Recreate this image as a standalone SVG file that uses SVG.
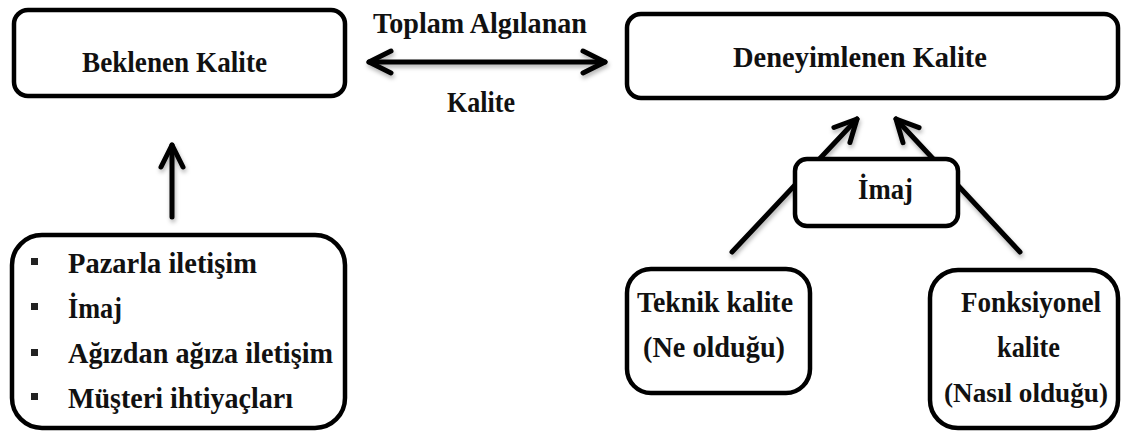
<svg xmlns="http://www.w3.org/2000/svg" width="1121" height="432" viewBox="0 0 1121 432">
  <defs>
    <style>
      .box { fill: #fff; stroke: #000; stroke-width: 4.5; }
      .link { fill: none; stroke: #000; stroke-width: 5; stroke-linecap: round; }
      .bullet { fill: #222; }
    </style>
    <!-- open chevron arrowhead -->
    <marker id="chev" viewBox="-30 -16 36 32" refX="0" refY="0" markerWidth="36" markerHeight="32" markerUnits="userSpaceOnUse" orient="auto-start-reverse">
      <path d="M-22,-11 L0,0 L-22,11" fill="none" stroke="#000" stroke-width="5" stroke-linecap="round" stroke-linejoin="round"/>
    </marker>
    <filter id="soft" x="-20%" y="-20%" width="140%" height="140%">
      <feDropShadow dx="1" dy="3" stdDeviation="2" flood-color="#000" flood-opacity="0.3"/>
    </filter>
  </defs>

  <rect width="1121" height="432" fill="#fff"/>

  <!-- connectors -->
  <g id="connectors" filter="url(#soft)">
    <line class="link" x1="369" y1="62" x2="605" y2="62" marker-start="url(#chev)" marker-end="url(#chev)"/>
    <line class="link" x1="172" y1="217" x2="172" y2="145" marker-end="url(#chev)"/>
    <line class="link" x1="732" y1="252" x2="857" y2="119" marker-end="url(#chev)"/>
    <line class="link" x1="1020" y1="252" x2="896" y2="119" marker-end="url(#chev)"/>
  </g>

  <g font-family="Liberation Serif, DejaVu Serif, serif" font-weight="bold" font-size="30" fill="#111">
    <!-- label of the two-way link -->
    <g id="link-label">
      <text x="373" y="33" textLength="214" lengthAdjust="spacingAndGlyphs">Toplam Algılanan</text>
      <text x="447" y="112" textLength="68" lengthAdjust="spacingAndGlyphs">Kalite</text>
    </g>

    <g id="beklenen">
      <rect class="box" x="14" y="10" width="331" height="86" rx="14"/>
      <text x="82" y="72" textLength="185" lengthAdjust="spacingAndGlyphs">Beklenen Kalite</text>
    </g>

    <g id="deneyimlenen">
      <rect class="box" x="627" y="14" width="491" height="84" rx="14"/>
      <text x="733" y="67" textLength="254" lengthAdjust="spacingAndGlyphs">Deneyimlenen Kalite</text>
    </g>

    <g id="imaj">
      <rect class="box" x="795" y="159" width="163" height="67" rx="12"/>
      <text x="858" y="199" textLength="55" lengthAdjust="spacingAndGlyphs">İmaj</text>
    </g>

    <g id="teknik">
      <rect class="box" x="627" y="269" width="183" height="124" rx="24"/>
      <text x="637" y="312" textLength="156" lengthAdjust="spacingAndGlyphs">Teknik kalite</text>
      <text x="643" y="357" textLength="142" lengthAdjust="spacingAndGlyphs">(Ne olduğu)</text>
    </g>

    <g id="fonksiyonel">
      <rect class="box" x="930" y="270" width="188" height="158" rx="28"/>
      <text x="961" y="312" textLength="140" lengthAdjust="spacingAndGlyphs">Fonksiyonel</text>
      <text x="997" y="357" textLength="63" lengthAdjust="spacingAndGlyphs">kalite</text>
      <text x="944" y="402" font-size="28" textLength="164" lengthAdjust="spacingAndGlyphs">(Nasıl olduğu)</text>
    </g>

    <g id="etkenler">
      <rect class="box" x="12" y="235" width="333" height="193" rx="30"/>
      <rect class="bullet" x="31" y="258" width="7" height="7"/>
      <rect class="bullet" x="31" y="303" width="7" height="7"/>
      <rect class="bullet" x="31" y="349" width="7" height="7"/>
      <rect class="bullet" x="31" y="393" width="7" height="7"/>
      <text x="68" y="273" textLength="189" lengthAdjust="spacingAndGlyphs">Pazarla iletişim</text>
      <text x="68" y="318" textLength="54" lengthAdjust="spacingAndGlyphs">İmaj</text>
      <text x="68" y="363" textLength="265" lengthAdjust="spacingAndGlyphs">Ağızdan ağıza iletişim</text>
      <text x="68" y="408" textLength="225" lengthAdjust="spacingAndGlyphs">Müşteri ihtiyaçları</text>
    </g>
  </g>
</svg>
